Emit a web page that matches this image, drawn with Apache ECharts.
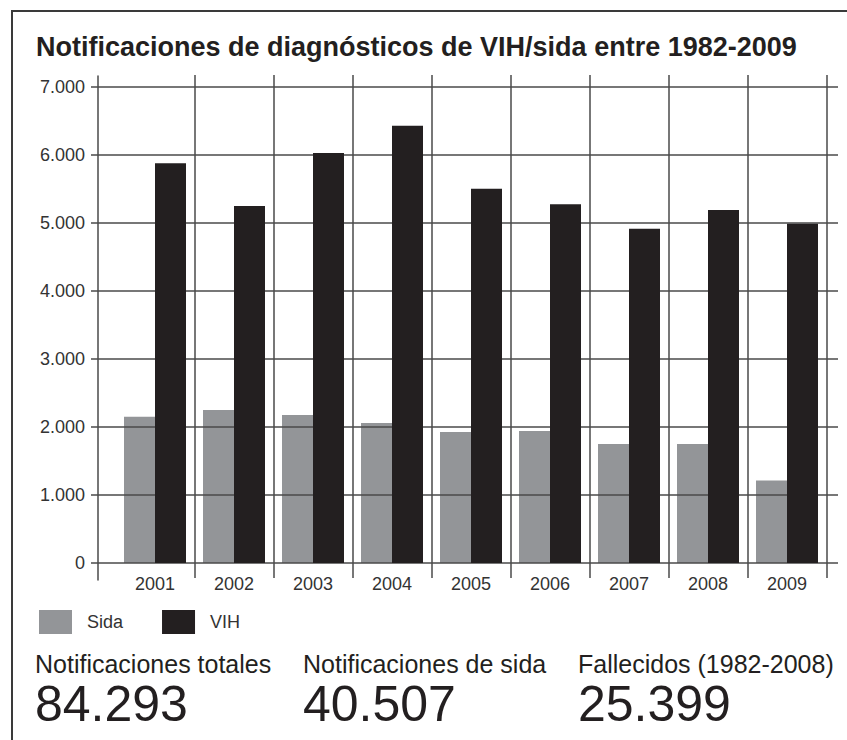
<!DOCTYPE html>
<html>
<head>
<meta charset="utf-8">
<script src="https://cdn.jsdelivr.net/npm/echarts@6/dist/echarts.min.js"></script>
<style>
    html, body { margin: 0; padding: 0; background: #fff; overflow: hidden; }
    #chart { position: absolute; left: 0; top: 0; width: 847px; height: 740px; }
    .frame { position: absolute; left: 11px; top: 10px; width: 900px; height: 800px;
             border-left: 2px solid #3a3a3a; border-top: 2px solid #3a3a3a; pointer-events: none; }
</style>
</head>
<body>
<div id="chart"></div>
<div class="frame"></div>
<script>
    const years = ['2001', '2002', '2003', '2004', '2005', '2006', '2007', '2008', '2009'];
    const sida = [2150, 2250, 2175, 2060, 1925, 1940, 1750, 1750, 1215];
    const vih = [5880, 5250, 6030, 6430, 5505, 5275, 4915, 5190, 4990];
    const statLabels = ['Notificaciones totales', 'Notificaciones de sida', 'Fallecidos (1982-2008)'];
    const statValues = ['84.293', '40.507', '25.399'];
    const statLeft = [35, 303, 578];

    const font = "'Liberation Sans', Arial, sans-serif";
    const lineColor = '#4a4a4a';

    // miles con punto: 7000 -> 7.000
    const fmt = v => String(v).replace(/\B(?=(\d{3})+(?!\d))/g, '.');
    // sin marca en el borde izquierdo del primer año
    const skipFirst = i => i > 0;

    const stats = [];
    statLabels.forEach((label, i) => {
        stats.push({
            type: 'text', left: statLeft[i], top: 651,
            style: { text: label, font: '25px ' + font, fill: '#231f20' }
        });
        stats.push({
            type: 'text', left: statLeft[i], top: 679,
            style: { text: statValues[i], font: '50px ' + font, fill: '#231f20' }
        });
    });

    const chart = echarts.init(document.getElementById('chart'), null, { renderer: 'svg' });

    chart.setOption({
        animation: false,
        title: {
            text: 'Notificaciones de diagnósticos de VIH/sida entre 1982-2009',
            left: 31,
            top: 28,
            textStyle: { fontFamily: font, fontSize: 27, fontWeight: 'bold', color: '#231f20' }
        },
        legend: {
            left: 39,
            top: 610,
            padding: 0,
            itemWidth: 33,
            itemHeight: 24,
            itemGap: 39,
            icon: 'rect',
            textStyle: { fontFamily: font, fontSize: 18, color: '#333', padding: [0, 0, 0, 10] },
            data: ['Sida', 'VIH']
        },
        grid: [
            { left: 115.5, right: 20.5, top: 87, bottom: 177 },
            { left: 98, right: 9, top: 87, bottom: 177 },
            { left: 98, width: 10, top: 76, bottom: 160 }
        ],
        xAxis: [
            {
                type: 'category', gridIndex: 0, data: years,
                axisLine: { show: false },
                axisTick: { show: true, interval: skipFirst, length: 15, lineStyle: { color: lineColor, width: 1.5 } },
                axisLabel: { fontFamily: font, fontSize: 18, color: '#333', margin: 12 },
                splitLine: { show: true, showMinLine: false, lineStyle: { color: lineColor, width: 1.5 } }
            },
            {
                type: 'category', gridIndex: 0, data: years, position: 'top',
                axisLine: { show: false },
                axisTick: { show: true, interval: skipFirst, length: 12, lineStyle: { color: lineColor, width: 1.5 } },
                axisLabel: { show: false },
                splitLine: { show: false }
            },
            { type: 'value', gridIndex: 1, show: false },
            { type: 'value', gridIndex: 2, show: false }
        ],
        yAxis: [
            { type: 'value', gridIndex: 0, min: 0, max: 7000, interval: 1000, show: false },
            {
                type: 'value', gridIndex: 1, min: 0, max: 7000, interval: 1000, z: 2,
                axisLine: { show: false },
                axisTick: { show: true, length: 7, lineStyle: { color: lineColor, width: 1.5 } },
                axisLabel: { fontFamily: font, fontSize: 18, color: '#333', margin: 13, formatter: fmt },
                splitLine: { show: true, lineStyle: { color: lineColor, width: 1.5 } }
            },
            {
                type: 'value', gridIndex: 2,
                axisLine: { show: true, lineStyle: { color: lineColor, width: 1.5 } },
                axisTick: { show: false },
                axisLabel: { show: false },
                splitLine: { show: false }
            }
        ],
        series: [
            {
                name: 'Sida', type: 'bar', xAxisIndex: 0, yAxisIndex: 0, z: 1,
                barWidth: 31, barGap: '0%',
                itemStyle: { color: '#939598' },
                data: sida
            },
            {
                name: 'VIH', type: 'bar', xAxisIndex: 0, yAxisIndex: 0, z: 3,
                barWidth: 31, barGap: '0%',
                itemStyle: { color: '#231f20' },
                data: vih
            }
        ],
        graphic: stats
    });

    window.addEventListener('resize', () => {
        chart.resize()
    })
</script>
</body>
</html>
